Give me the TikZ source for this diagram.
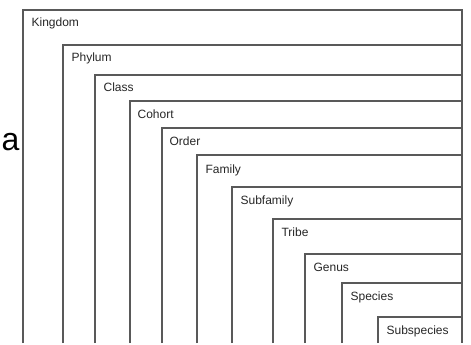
\documentclass[tikz,border=0pt]{standalone}
\usepackage{fontspec}
\setmainfont{Liberation Sans}
\begin{document}
\begin{tikzpicture}[x=1pt, y=-1pt, line width=1.2pt, color=black!65]
       % \draw[help lines] (0, 0) grid (471, 345);
       \useasboundingbox (0, 0) rectangle (471, 345);
       \tikzset{rank/.style={anchor=base west, inner sep=0pt, text=black!85, font=\fontsize{12}{14}\selectfont}}
       \draw (23, 343) |- (462, 10) -- (462, 343);
       \draw (63, 343) |- (462, 45);
       \draw (95, 343) |- (462, 75);
       \draw (130, 343) |- (462, 101);
       \draw (162, 343) |- (462, 128);
       \draw (197, 343) |- (462, 155);
       \draw (232, 343) |- (462, 187);
       \draw (273, 343) |- (462, 219);
       \draw (305, 343) |- (462, 254);
       \draw (342, 343) |- (462, 283);
       \draw (378, 343) |- (462, 317);
       \node [rank] (kingdom) at (31, 27) {Kingdom};
       \node [rank] (phylum) at (71, 62) {Phylum};
       \node [rank] (class) at (103, 92) {Class};
       \node [rank] (cohort) at (137, 118) {Cohort};
       \node [rank] (order) at (169, 145) {Order};
       \node [rank] (family) at (205, 173) {Family};
       \node [rank] (subfamily) at (240, 204) {Subfamily};
       \node [rank] (tribe) at (281, 236) {Tribe};
       \node [rank] (genus) at (313, 271) {Genus};
       \node [rank] (species) at (350, 300) {Species};
       \node [rank] (subspecies) at (386, 334) {Subspecies};
       \node [anchor=base west, text=black, inner sep=0pt, font=\fontsize{32}{32}\selectfont] (panel) at (1, 150) {a};
   \end{tikzpicture}
\end{document}
